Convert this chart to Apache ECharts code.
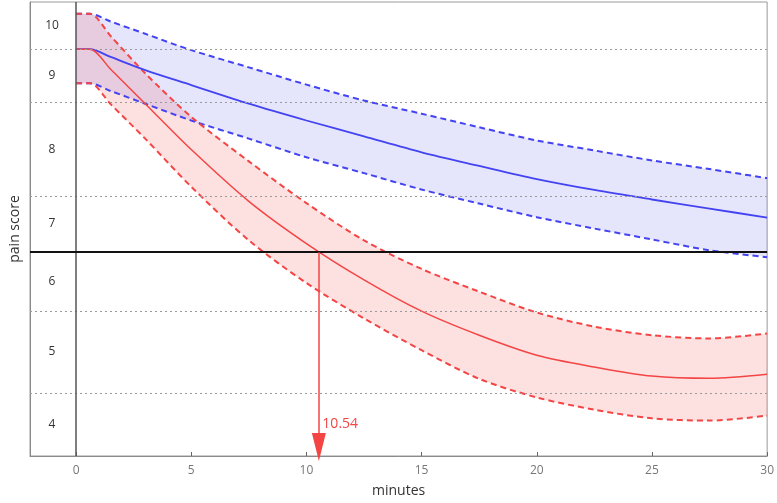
<!DOCTYPE html>
<html>
<head>
<meta charset="utf-8">
<script src="https://cdn.jsdelivr.net/npm/echarts@6/dist/echarts.min.js"></script>
<style>html,body{margin:0;padding:0;background:#fff}#c{width:777px;height:503px}</style>
</head>
<body>
<div id="c"></div>
<script>
// ---- data (y in latent scale units 0..100, bottom to top) ----
const minutes   = [0, 0.6, 1.5, 3, 5, 7.5, 10, 12.5, 15, 17.5, 20, 22.5, 25, 27.5, 30];
const blueMean  = [89.6, 89.6, 87.9, 85.0, 81.7, 77.6, 73.9, 70.4, 66.9, 63.9, 61.0, 58.6, 56.5, 54.5, 52.5];
const blueUpper = [97.4, 97.4, 95.7, 93.0, 89.4, 85.6, 81.8, 78.3, 75.4, 72.4, 69.5, 67.3, 65.1, 63.2, 61.2];
const blueLower = [82.1, 82.1, 80.4, 77.6, 73.9, 69.9, 65.8, 62.3, 58.7, 55.6, 52.6, 50.1, 47.7, 45.3, 43.8];
const redMean   = [89.6, 89.6, 85.2, 77.6, 67.5, 56.1, 46.8, 38.8, 31.9, 26.6, 22.2, 19.6, 17.6, 17.1, 18.0];
const redUpper  = [97.4, 97.4, 92.5, 84.3, 74.7, 64.9, 55.7, 47.5, 41.2, 36.2, 31.6, 28.5, 26.6, 25.9, 27.0];
const redLower  = [82.1, 82.1, 77.5, 69.9, 59.3, 47.5, 38.1, 30.3, 23.3, 17.0, 12.9, 10.2, 8.3, 7.8, 8.9];

const scoreLabels = ['10', '9', '8', '7', '6', '5', '4'];
const scoreLabelPos = [94.8, 83.8, 67.6, 51.1, 38.4, 22.9, 7.0];
const bandEdges = [13.9, 31.8, 57.3, 78.0, 89.6];
const threshold = 44.9;
const crossMinute = 10.54;
const crossLabel = '10.54';
const xTicks = [0, 5, 10, 15, 20, 25, 30];

const pairs = (ys) => minutes.map((x, i) => [x, ys[i]]);
// for stacked band fills: value dimension first so the stack applies to y
const yFirst = (ys) => minutes.map((x, i) => [ys[i], x]);
const yFirstDiff = (up, lo) => minutes.map((x, i) => [+(up[i] - lo[i]).toFixed(3), x]);

const BLUE = '#4343f2';
const RED = '#f44545';
const SM = 0.3;

const bandSeries = (lo, up, name, color) => ([
  { type: 'line', data: yFirst(lo), encode: { x: 1, y: 0 }, stack: name, smooth: SM, symbol: 'none', lineStyle: { opacity: 0 }, silent: true },
  { type: 'line', data: yFirstDiff(up, lo), encode: { x: 1, y: 0 }, stack: name, smooth: SM, symbol: 'none', lineStyle: { opacity: 0 }, areaStyle: { color: color, opacity: 1 }, silent: true }
]);

const chart = echarts.init(document.getElementById('c'));
chart.setOption({
  animation: false,
  textStyle: { fontFamily: 'Open Sans, DejaVu Sans, sans-serif' },
  grid: { left: 26, right: 7, top: 2, bottom: 42, show: true, borderColor: '#9a9a9a', borderWidth: 1 },
  xAxis: {
    type: 'value', min: -2, max: 30,
    name: 'minutes', nameLocation: 'middle', nameGap: 28,
    nameTextStyle: { color: '#333', fontSize: 14 },
    axisLine: { show: true, onZero: false, lineStyle: { color: '#8a8a8a' } },
    axisTick: { show: true, inside: true, length: 4, customValues: xTicks, lineStyle: { color: '#666' } },
    axisLabel: { customValues: xTicks, color: '#777', fontSize: 12, margin: 9 },
    splitLine: { show: false }
  },
  yAxis: {
    type: 'value', min: 0, max: 100,
    name: 'pain score', nameLocation: 'middle', nameGap: 8, nameRotate: 90,
    nameTextStyle: { color: '#333', fontSize: 14 },
    axisLine: { show: true, onZero: false, lineStyle: { color: '#8a8a8a' } },
    axisTick: { show: false },
    axisLabel: {
      inside: true, margin: 22, align: 'center', color: '#333', fontSize: 12,
      customValues: scoreLabelPos,
      formatter: (v) => { const i = scoreLabelPos.findIndex(p => Math.abs(p - v) < 1e-6); return i >= 0 ? scoreLabels[i] : ''; }
    },
    splitLine: { show: false }
  },
  series: [
    ...bandSeries(blueLower, blueUpper, 'b', 'rgba(40,40,230,0.12)'),
    ...bandSeries(redLower, redUpper, 'r', 'rgba(240,40,40,0.14)'),
    // gridlines / reference lines
    {
      type: 'line', data: [], silent: true,
      markLine: {
        silent: true, symbol: 'none', label: { show: false },
        data: [
          ...bandEdges.map(v => ({ yAxis: v, lineStyle: { color: '#9a9a9a', type: [2, 3], width: 1.2 } })),
          { xAxis: 0, lineStyle: { color: '#555', type: 'solid', width: 1.5 } }
        ]
      }
    },
    // dashed CI bounds
    { type: 'line', data: pairs(blueUpper), smooth: SM, symbol: 'none', lineStyle: { color: BLUE, width: 2, type: [6, 4] } },
    { type: 'line', data: pairs(blueLower), smooth: SM, symbol: 'none', lineStyle: { color: BLUE, width: 2, type: [6, 4] } },
    { type: 'line', data: pairs(redUpper), smooth: SM, symbol: 'none', lineStyle: { color: RED, width: 2, type: [6, 4] } },
    { type: 'line', data: pairs(redLower), smooth: SM, symbol: 'none', lineStyle: { color: RED, width: 2, type: [6, 4] } },
    // mean curves
    { type: 'line', data: pairs(blueMean), smooth: SM, symbol: 'none', lineStyle: { color: BLUE, width: 1.8 } },
    {
      type: 'line', data: pairs(redMean), smooth: SM, symbol: 'none', lineStyle: { color: RED, width: 1.5 },
      markLine: {
        silent: true, symbol: 'none', label: { show: false },
        data: [
          { yAxis: threshold, lineStyle: { color: '#111', type: 'solid', width: 2 } },
          [
            { coord: [crossMinute, threshold], symbol: 'none' },
            { coord: [crossMinute, 2.0], symbol: 'triangle', symbolSize: [14, 28], symbolRotate: 180 }
          ]
        ],
        lineStyle: { color: RED, type: 'solid', width: 1.5 }
      },
      markPoint: {
        silent: true, symbol: 'circle', symbolSize: 1, itemStyle: { color: 'rgba(0,0,0,0)' },
        data: [{ coord: [crossMinute, 7.0], label: { show: true, position: 'right', distance: 3, formatter: crossLabel, color: RED, fontSize: 14 } }]
      }
    }
  ]
});
</script>
</body>
</html>
